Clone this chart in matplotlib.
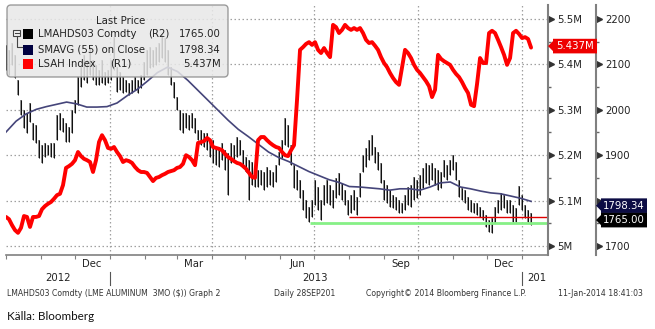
import pandas as pd
import matplotlib
matplotlib.use("Agg")
import matplotlib.pyplot as plt
import matplotlib.dates as mdates
import matplotlib.transforms as mtrans
from matplotlib.patches import FancyBboxPatch, Polygon, Rectangle
from matplotlib.lines import Line2D

W, H = 655, 329

# LME aluminium 3M, high/low of each bar (USD, right axis R2)
bar_hi = [2143, 2132, 2147, 2121, 2066, 2022, 2000, 1993, 2015, 1971,
          1967, 1933, 1922, 1927, 1922, 1927, 1927, 1989, 1993, 1982,
          1971, 1962, 2000, 2022, 2072, 2094, 2121, 2110, 2138, 2110,
          2099, 2088, 2110, 2083, 2088, 2110, 2160, 2094, 2083, 2072,
          2066, 2059, 2066, 2072, 2066, 2077, 2105, 2132, 2138, 2132,
          2138, 2147, 2165, 2158, 2132, 2094, 2061, 2028, 2000, 1993,
          1993, 1989, 1993, 1982, 1956, 1956, 1949, 1949, 1933, 1933,
          1918, 1918, 1927, 1911, 1905, 1927, 1922, 1940, 1933, 1911,
          1896, 1889, 1885, 1874, 1867, 1867, 1863, 1874, 1867, 1863,
          1878, 1907, 1933, 1982, 1967, 1922, 1878, 1867, 1845, 1823,
          1801, 1786, 1801, 1845, 1830, 1801, 1834, 1845, 1834, 1823,
          1850, 1861, 1839, 1823, 1801, 1812, 1823, 1808, 1861, 1900,
          1916, 1933, 1944, 1918, 1907, 1883, 1845, 1834, 1823, 1812,
          1808, 1801, 1795, 1812, 1830, 1834, 1852, 1845, 1856, 1872,
          1883, 1878, 1883, 1872, 1867, 1863, 1889, 1878, 1889, 1900,
          1885, 1845, 1828, 1823, 1808, 1801, 1795, 1795, 1786, 1779,
          1768, 1757, 1762, 1786, 1801, 1817, 1812, 1801, 1801, 1790,
          1784, 1832, 1812, 1790, 1779, 1773]
bar_lo = [2088, 2077, 2099, 2070, 2033, 1989, 1960, 1949, 1973, 1933,
          1927, 1894, 1883, 1896, 1900, 1896, 1894, 1933, 1956, 1951,
          1929, 1929, 1949, 1993, 2011, 2050, 2066, 2059, 2077, 2066,
          2055, 2055, 2059, 2055, 2059, 2066, 2088, 2039, 2044, 2037,
          2039, 2033, 2037, 2044, 2037, 2048, 2066, 2077, 2092, 2094,
          2099, 2105, 2114, 2105, 2077, 2055, 2026, 2000, 1956, 1949,
          1960, 1956, 1960, 1949, 1933, 1922, 1918, 1911, 1896, 1883,
          1878, 1874, 1889, 1867, 1812, 1883, 1889, 1896, 1900, 1872,
          1863, 1801, 1834, 1830, 1830, 1834, 1823, 1830, 1834, 1830,
          1841, 1878, 1894, 1922, 1918, 1878, 1828, 1823, 1806, 1779,
          1762, 1753, 1764, 1790, 1779, 1757, 1790, 1795, 1790, 1784,
          1806, 1812, 1801, 1790, 1768, 1773, 1779, 1768, 1808, 1863,
          1874, 1889, 1900, 1883, 1867, 1839, 1801, 1795, 1786, 1784,
          1779, 1773, 1773, 1779, 1790, 1786, 1801, 1806, 1812, 1828,
          1839, 1834, 1845, 1834, 1823, 1828, 1852, 1845, 1856, 1867,
          1845, 1808, 1801, 1795, 1779, 1775, 1773, 1768, 1764, 1757,
          1742, 1731, 1729, 1751, 1773, 1779, 1784, 1773, 1773, 1753,
          1753, 1790, 1779, 1762, 1753, 1746]
last_close = 1765.00

# LSAH index in millions (R1 scale)
lsah = [5.064, 5.059, 5.046, 5.035, 5.029, 5.040, 5.066, 5.064, 5.042, 5.064,
        5.064, 5.066, 5.081, 5.088, 5.093, 5.097, 5.104, 5.112, 5.115, 5.134,
        5.172, 5.176, 5.181, 5.189, 5.207, 5.198, 5.192, 5.189, 5.185, 5.163,
        5.189, 5.229, 5.244, 5.233, 5.216, 5.214, 5.218, 5.207, 5.198, 5.185,
        5.189, 5.187, 5.183, 5.174, 5.167, 5.163, 5.163, 5.161, 5.152, 5.143,
        5.150, 5.152, 5.156, 5.159, 5.163, 5.165, 5.167, 5.172, 5.174, 5.181,
        5.200, 5.196, 5.189, 5.178, 5.227, 5.229, 5.231, 5.238, 5.233, 5.218,
        5.216, 5.214, 5.211, 5.203, 5.196, 5.192, 5.187, 5.183, 5.181, 5.176,
        5.170, 5.161, 5.152, 5.150, 5.233, 5.240, 5.240, 5.233, 5.227, 5.222,
        5.218, 5.216, 5.207, 5.200, 5.198, 5.211, 5.222, 5.322, 5.432, 5.438,
        5.445, 5.449, 5.443, 5.449, 5.432, 5.425, 5.436, 5.425, 5.416, 5.487,
        5.482, 5.469, 5.476, 5.487, 5.480, 5.476, 5.480, 5.476, 5.480, 5.469,
        5.454, 5.447, 5.449, 5.441, 5.432, 5.416, 5.403, 5.394, 5.381, 5.370,
        5.361, 5.355, 5.394, 5.432, 5.425, 5.414, 5.399, 5.388, 5.381, 5.372,
        5.363, 5.352, 5.328, 5.344, 5.421, 5.412, 5.407, 5.403, 5.399, 5.388,
        5.379, 5.372, 5.361, 5.348, 5.337, 5.311, 5.308, 5.357, 5.414, 5.403,
        5.403, 5.469, 5.474, 5.469, 5.454, 5.438, 5.421, 5.399, 5.414, 5.469,
        5.474, 5.467, 5.458, 5.460, 5.456, 5.437]

# 55-day simple moving average of the close
smavg = [1951, 1975, 1991, 2001, 2007, 2012, 2017, 2013, 2006, 2006,
         2007, 2015, 2031, 2045, 2063, 2082, 2094, 2084, 2065, 2043,
         2021, 1999, 1977, 1957, 1941, 1924, 1907, 1895, 1886, 1875,
         1864, 1855, 1846, 1840, 1831, 1830, 1828, 1826, 1823, 1826,
         1826, 1823, 1830, 1839, 1841, 1830, 1826, 1821, 1817, 1815,
         1810, 1805, 1798.34]

support_red, support_red_from = 1764, "2013-08-01"
support_green, support_green_from = 1750, "2013-06-27"

start, end = "2012-10-01", "2014-01-09"
bar_dates = pd.date_range(start, end, periods=len(bar_hi))
lsah_dates = pd.date_range(start, end, periods=len(lsah))
sma_dates = pd.date_range(start, end, periods=len(smavg))

x_lo, x_hi = pd.Timestamp("2012-10-01"), pd.Timestamp("2014-01-24")
grid_dates = ["2013-01-01", "2013-04-01", "2013-07-01", "2013-10-01", "2014-01-01"]
month_labels = [("2012-12-16", "Dec"), ("2013-03-16", "Mar"), ("2013-06-16", "Jun"),
                ("2013-09-16", "Sep"), ("2013-12-16", "Dec")]

plt.rcParams["font.family"] = "DejaVu Sans"
TXT = "#222222"
AXC = "#808080"

fig = plt.figure(figsize=(W / 100, H / 100), dpi=100)


def fx(x):
    return x / W


def fy(y):
    return 1 - y / H


ax = fig.add_axes([fx(6), fy(255), fx(548) - fx(6), fy(5) - fy(255)])
ax2 = ax.twinx()

ax.set_xlim(x_lo, x_hi)
ax.set_ylim(1680.2, 2230.8)
ax2.set_ylim(4.9802, 5.5308)

for a in (ax, ax2):
    for s in ("top", "left"):
        a.spines[s].set_visible(False)
ax2.spines["bottom"].set_visible(False)
ax.spines["bottom"].set_color(AXC)
ax.spines["bottom"].set_linewidth(1.2)
ax.spines["right"].set_position(("outward", 34.56))
for a in (ax, ax2):
    a.spines["right"].set_color(AXC)
    a.spines["right"].set_linewidth(1.5)

# grid
for v in range(1700, 2201, 100):
    ax.axhline(v, color="#a0a0a0", lw=0.9, ls=(0, (1.2, 2.0)), zorder=0.5)
for d in grid_dates:
    ax.axvline(pd.Timestamp(d), color="#a0a0a0", lw=0.9, ls=(0, (1.2, 2.0)), zorder=0.5)

# price bars
ax.vlines(bar_dates, bar_lo, bar_hi, color="#8e8e8e", lw=1.4, zorder=2)
ax.vlines(bar_dates, bar_lo, bar_hi, color="#111111", lw=0.75, zorder=3)
ax.plot(sma_dates, smavg, color="#45457a", lw=1.2, zorder=4)
ax.hlines(support_green, pd.Timestamp(support_green_from), x_hi, color="#86f086", lw=2.0, zorder=4)
ax.hlines(support_red, pd.Timestamp(support_red_from), x_hi, color="#e00000", lw=1.0, zorder=4)

ax2.plot(lsah_dates, lsah, color="#ff0000", lw=2.8, solid_joinstyle="round",
         solid_capstyle="round", zorder=5)

# x axis: month ticks, labels drawn by hand
ax.xaxis.set_major_locator(mdates.MonthLocator())
ax.xaxis.set_major_formatter(plt.NullFormatter())
ax.tick_params(axis="x", length=3, width=0.8, color=AXC, direction="out")
xt = mtrans.blended_transform_factory(ax.transData, ax.transAxes)
for d, lab in month_labels:
    ax.text(pd.Timestamp(d), -0.036, lab, transform=xt, ha="center", va="center",
            fontsize=7.3, color=TXT)
ax.text(pd.Timestamp("2012-11-16"), -0.092, "2012", transform=xt, ha="center",
        va="center", fontsize=7.3, color=TXT)
ax.text(pd.Timestamp("2013-07-02"), -0.092, "2013", transform=xt, ha="center",
        va="center", fontsize=7.3, color=TXT)
ax.text(pd.Timestamp("2014-01-06"), -0.092, "201", transform=xt, ha="left",
        va="center", fontsize=7.3, color=TXT)
for d in ("2013-01-01", "2014-01-01"):
    ax.add_line(Line2D([pd.Timestamp(d)] * 2, [-0.068, -0.12], transform=xt,
                       color="#555555", lw=0.8, clip_on=False))

# right-hand scales
r1_major = [5.0, 5.1, 5.2, 5.3, 5.4, 5.5]
r1_minor = [5.05, 5.15, 5.25, 5.35, 5.45]
ax2.set_yticks(r1_major)
ax2.set_yticklabels([f"{v:g}M" for v in r1_major])
ax2.set_yticks(r1_minor, minor=True)
r2_major = list(range(1700, 2201, 100))
r2_minor = list(range(1750, 2200, 100))
ax.yaxis.tick_right()
ax.set_yticks(r2_major)
# 1800 sits under the SMAVG value box
ax.set_yticklabels(["" if v == 1800 else str(v) for v in r2_major])
ax.set_yticks(r2_minor, minor=True)
for a in (ax, ax2):
    a.tick_params(axis="y", which="major", length=0, pad=6.5, labelsize=7.3,
                  labelcolor=TXT)
    a.tick_params(axis="y", which="minor", length=2.5, width=1.0, color="#666666",
                  direction="out")

off = mtrans.ScaledTranslation(2.5 / 100, 0, fig.dpi_scale_trans)
t1 = mtrans.blended_transform_factory(ax2.transAxes, ax2.transData) + off
ax2.plot([1.0] * len(r1_major), r1_major, ls="none", marker=">", ms=3.8,
         color="#333333", transform=t1, clip_on=False)
t2 = mtrans.blended_transform_factory(ax.transAxes, ax.transData) + off
ax.plot([1 + 48 / 542] * len(r2_major), r2_major, ls="none", marker=">", ms=3.8,
        color="#333333", transform=t2, clip_on=False)


def value_box(x0, x1, yc, face, text):
    h = 7.3
    pts = [(x0, yc), (x0 + 5, yc + 5), (x0 + 5, yc + h), (x1, yc + h),
           (x1, yc - h), (x0 + 5, yc - h), (x0 + 5, yc - 5)]
    fig.add_artist(Polygon(pts, closed=True, facecolor=face, edgecolor="none",
                           transform=mtrans.IdentityTransform(), zorder=5))
    fig.text(fx((x0 + 5 + x1) / 2), yc / H, text, ha="center", va="center",
             fontsize=7.3, color="white", zorder=6)


y_lsah = ax2.transData.transform((0, lsah[-1]))[1]
y_sma = ax.transData.transform((0, smavg[-1]))[1]
y_last = ax.transData.transform((0, last_close))[1]
value_box(548, 597, y_lsah + 1.5, "#ee0000", f"{lsah[-1]:.3f}M")
value_box(596, 647, y_sma - 4.3, "#0c0c44", f"{smavg[-1]:.2f}")
value_box(596, 647, y_last - 3.6, "#000000", f"{last_close:.2f}")

# legend panel
fig.add_artist(FancyBboxPatch((7, H - 77), 221, 72, boxstyle="round,pad=0,rounding_size=4",
                              facecolor="#e8e8e8", edgecolor="#8c8c8c", lw=1.0, alpha=0.85,
                              transform=mtrans.IdentityTransform(), zorder=3))
fig.text(fx(121), fy(21), "Last Price", ha="center", va="center", fontsize=7.3,
         color=TXT, zorder=4)
rows = [(34, "#000000", "LMAHDS03 Comdty", "(R2)", 148, f"{last_close:.2f}"),
        (50, "#000040", "SMAVG (55) on Close", "", 0, f"{smavg[-1]:.2f}"),
        (64, "#ff0000", "LSAH Index", "(R1)", 110, f"{lsah[-1]:.3f}M")]
for y, c, name, axis_tag, tag_x, val in rows:
    fig.add_artist(Rectangle((23, H - y - 5), 10, 10, facecolor=c, edgecolor="none",
                             transform=mtrans.IdentityTransform(), zorder=4))
    fig.text(fx(38), fy(y), name, ha="left", va="center", fontsize=7.3, color=TXT, zorder=4)
    if axis_tag:
        fig.text(fx(tag_x), fy(y), axis_tag, ha="left", va="center", fontsize=7.3,
                 color=TXT, zorder=4)
    fig.text(fx(221), fy(y), val, ha="right", va="center", fontsize=7.3, color=TXT, zorder=4)
fig.add_artist(Rectangle((13, H - 36), 7, 6, facecolor="#f4f4f4", edgecolor="#444444",
                         lw=0.8, transform=mtrans.IdentityTransform(), zorder=4))
fig.add_artist(Line2D([14.5, 18.5], [H - 33, H - 33], color="#444444", lw=0.8,
                      transform=mtrans.IdentityTransform(), zorder=5))
fig.add_artist(Line2D([16.5, 16.5, 22], [H - 36, H - 47, H - 47], color="#444444",
                      lw=0.8, transform=mtrans.IdentityTransform(), zorder=4))

# footer
fs = 5.6
fig.text(fx(7), fy(294), "LMAHDS03 Comdty (LME ALUMINUM  3MO ($)) Graph 2",
         ha="left", va="center", fontsize=fs, color="#333333")
fig.text(fx(274), fy(294), "Daily 28SEP201", ha="left", va="center", fontsize=fs,
         color="#333333")
fig.text(fx(366), fy(294), "Copyright\u00a9 2014 Bloomberg Finance L.P.", ha="left",
         va="center", fontsize=fs, color="#333333")
fig.text(fx(558), fy(294), "11-Jan-2014 18:41:03", ha="left", va="center",
         fontsize=fs, color="#333333")
fig.text(fx(7), fy(316), "Källa: Bloomberg", ha="left", va="center", fontsize=8.4,
         family="Lato", color="#111111")

fig.savefig("out.png", dpi=100)
